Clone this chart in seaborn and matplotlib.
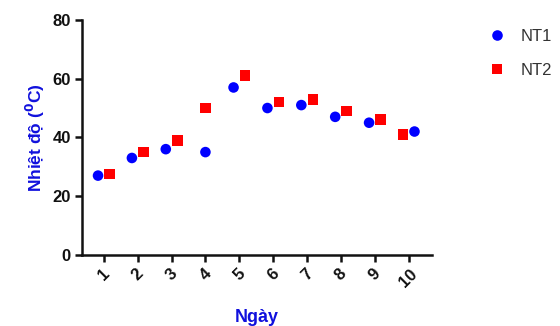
import matplotlib
matplotlib.use("Agg")
import matplotlib.pyplot as plt
import seaborn as sns
import pandas as pd
import numpy as np

days = [1, 2, 3, 4, 5, 6, 7, 8, 9, 10]
nt1 = [27, 33, 36, 35, 57, 50, 51, 47, 45, 42]
nt2 = [27.5, 35, 39, 50, 61, 52, 53, 49, 46, 41]
series_names = ["NT1", "NT2"]
tick_labels = [str(d) for d in days]

# horizontal dodge (style) to avoid overlapping markers, as in the reference
nt1_dx = [-0.17, -0.17, -0.17, 0, -0.17, -0.17, -0.17, -0.17, -0.17, 0.17]
nt2_dx = [0.17, 0.17, 0.17, 0, 0.17, 0.17, 0.17, 0.17, 0.17, -0.17]

df = pd.DataFrame({
    "Ngày": days * 2,
    "x": list(np.array(days) + np.array(nt1_dx)) + list(np.array(days) + np.array(nt2_dx)),
    "val": nt1 + nt2,
    "Series": [series_names[0]] * len(days) + [series_names[1]] * len(days),
})

sns.set_style("ticks")
plt.rcParams["font.family"] = ["Liberation Sans", "DejaVu Sans"]

fig = plt.figure(figsize=(5.6, 3.26), dpi=100)
ax = fig.add_axes([0.146, 0.218, 0.625, 0.721])

sns.scatterplot(data=df, x="x", y="val", hue="Series", style="Series",
                palette={"NT1": "#0000FF", "NT2": "#FF0000"},
                markers={"NT1": "o", "NT2": "s"},
                s=58, linewidth=0, ax=ax, legend=True)

ax.set_xlim(0.35, 10.68)
ax.set_ylim(0, 80)
ax.set_yticks([0, 20, 40, 60, 80])
ax.set_xticks(days)
ax.set_xticklabels(tick_labels, rotation=45, ha="center", fontsize=12, fontweight="bold")
for lab in ax.get_yticklabels():
    lab.set_fontsize(12)
    lab.set_fontweight("bold")

for side in ["top", "right"]:
    ax.spines[side].set_visible(False)
for side in ["left", "bottom"]:
    ax.spines[side].set_linewidth(1.8)
    ax.spines[side].set_color("#111111")
ax.tick_params(axis="both", width=1.8, length=5, color="#111111", labelcolor="#111111", pad=3)

ax.set_xlabel("Ngày", color="#1010DD", fontsize=13, fontweight="bold", labelpad=14)
ax.set_ylabel("Nhiệt độ ($\\mathbf{^0}$C)", color="#1010DD", fontsize=12.5, fontweight="bold", labelpad=4)

leg = ax.legend(loc="upper left", bbox_to_anchor=(0.846, 0.958),
                bbox_transform=fig.transFigure, frameon=False,
                fontsize=12, handlelength=1.0, handletextpad=0.9,
                labelspacing=1.15, borderpad=0.4, markerscale=1.0)
for t in leg.get_texts():
    t.set_color("#333333")

fig.savefig("out.png", dpi=100)
